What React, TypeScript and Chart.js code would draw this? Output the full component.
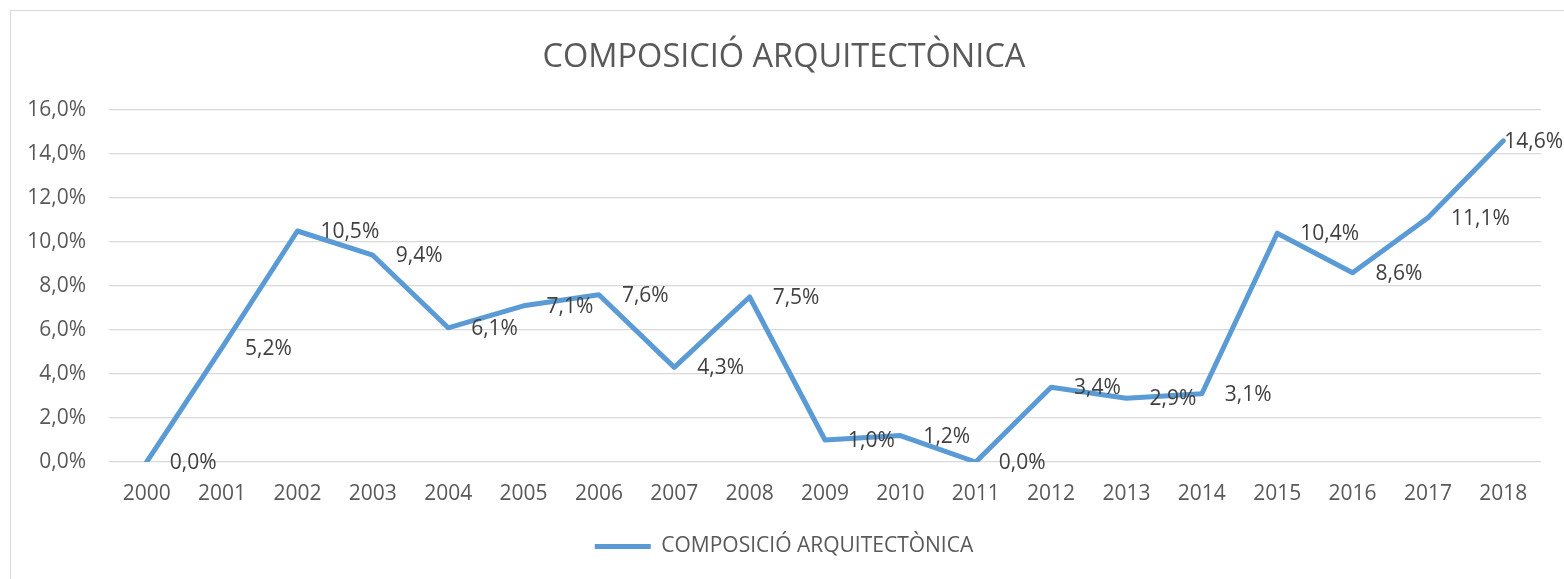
import React, { useEffect, useRef } from "react";
import { Chart, registerables } from "chart.js";

Chart.register(...registerables);

const TITLE = "COMPOSICIÓ ARQUITECTÒNICA";
const SERIES_NAME = "COMPOSICIÓ ARQUITECTÒNICA";
const YEARS = ["2000","2001","2002","2003","2004","2005","2006","2007","2008","2009","2010","2011","2012","2013","2014","2015","2016","2017","2018"];
const VALUES = [0.0, 5.2, 10.5, 9.4, 6.1, 7.1, 7.6, 4.3, 7.5, 1.0, 1.2, 0.0, 3.4, 2.9, 3.1, 10.4, 8.6, 11.1, 14.6];
const Y_MIN = 0;
const Y_MAX = 16;
const Y_STEP = 2;

const FONT = "'Open Sans', 'Liberation Sans', sans-serif";
const LINE_COLOR = "#5B9BD5";

const fmt = (v: number) => v.toFixed(1).replace(".", ",") + "%";

const dataLabels = {
  id: "dataLabels",
  afterDatasetsDraw(chart: any) {
    const ctx = chart.ctx;
    const meta = chart.getDatasetMeta(0);
    ctx.save();
    ctx.font = `21px ${FONT}`;
    ctx.fillStyle = "#404040";
    ctx.textBaseline = "middle";
    ctx.textAlign = "left";
    meta.data.forEach((pt: any, i: number) => {
      const txt = fmt(VALUES[i]);
      const w = ctx.measureText(txt).width;
      let x = pt.x + 23;
      if (x + w > chart.width - 1) x = chart.width - 1 - w;
      ctx.fillText(txt, x, pt.y + 1);
    });
    ctx.restore();
  },
};

export default function App() {
  const ref = useRef<HTMLCanvasElement | null>(null);
  useEffect(() => {
    if (!ref.current) return;
    const chart = new Chart(ref.current, {
      type: "line",
      data: {
        labels: YEARS,
        datasets: [
          {
            label: SERIES_NAME,
            data: VALUES,
            borderColor: LINE_COLOR,
            backgroundColor: LINE_COLOR,
            borderWidth: 5,
            pointRadius: 0,
            tension: 0,
            borderCapStyle: "round",
            borderJoinStyle: "round",
          },
        ],
      },
      options: {
        animation: false,
        responsive: false,
        maintainAspectRatio: false,
        layout: { padding: { left: 16, right: 23, top: 0, bottom: 12 } },
        plugins: {
          title: {
            display: true,
            text: TITLE,
            color: "#595959",
            font: { family: FONT, size: 32.5, weight: "normal", lineHeight: 1.2 },
            padding: { top: 27.5, bottom: 32.5 },
          },
          legend: {
            display: true,
            position: "bottom",
            labels: {
              color: "#595959",
              font: { family: FONT, size: 21 },
              boxWidth: 56,
              boxHeight: 5,
              padding: 10,
              generateLabels: () => [
                {
                  text: SERIES_NAME,
                  fillStyle: LINE_COLOR,
                  strokeStyle: LINE_COLOR,
                  lineWidth: 0,
                  hidden: false,
                  datasetIndex: 0,
                  fontColor: "#595959",
                },
              ],
            },
          },
          tooltip: { enabled: false },
        },
        scales: {
          x: {
            offset: true,
            grid: { display: false, drawTicks: false },
            border: { display: false },
            ticks: {
              color: "#595959",
              font: { family: FONT, size: 21 },
              padding: 19,
              maxRotation: 0,
              autoSkip: false,
            },
            afterFit: (s: any) => {
              s.height = 64;
            },
          },
          y: {
            min: Y_MIN,
            max: Y_MAX,
            grid: { color: "#d9d9d9", lineWidth: 1.3, drawTicks: false },
            border: { display: false },
            ticks: {
              stepSize: Y_STEP,
              color: "#595959",
              font: { family: FONT, size: 21 },
              padding: 23,
              callback: (v: any) => fmt(Number(v)),
            },
            afterFit: (s: any) => {
              s.width = 82;
            },
          },
        },
      },
      plugins: [dataLabels],
    });
    return () => chart.destroy();
  }, []);

  return (
    <div
      style={{
        position: "absolute",
        left: 10,
        top: 10,
        width: 1553,
        height: 568,
        borderLeft: "1px solid #d9d9d9",
        borderTop: "1px solid #d9d9d9",
        background: "#fff",
      }}
    >
      <canvas ref={ref} width={1553} height={568} style={{ display: "block" }} />
    </div>
  );
}
